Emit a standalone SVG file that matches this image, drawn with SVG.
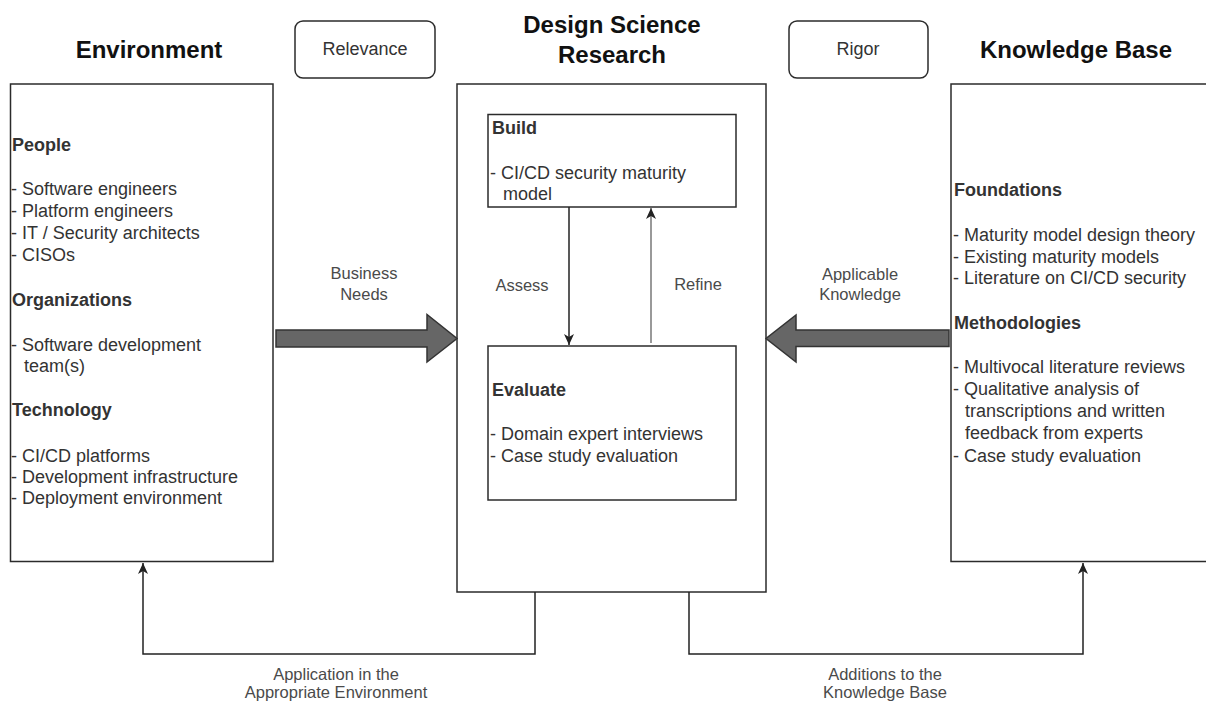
<svg xmlns="http://www.w3.org/2000/svg" width="1206" height="707" viewBox="0 0 1206 707">
  <style>
    text { font-family: "Liberation Sans", Arial, Helvetica, sans-serif; }
    .title { font-size: 24px; font-weight: bold; fill: #111; text-anchor: middle; }
    .body { font-size: 18px; fill: #333; }
    .head { font-size: 18px; font-weight: bold; fill: #333; }
    .tag { font-size: 18px; fill: #333; text-anchor: middle; }
    .lbl { font-size: 16.5px; fill: #4a4a4a; text-anchor: middle; }
    .box { fill: #fff; stroke: #2b2b2b; stroke-width: 1.5; }
    .pill { fill: #fff; stroke: #2b2b2b; stroke-width: 1.5; }
    .wire { fill: none; stroke: #222; stroke-width: 1.5; }
    .wire-soft { fill: none; stroke: #777; stroke-width: 1.5; }
    .fat { fill: #666; stroke: #333; stroke-width: 1.5; stroke-linejoin: miter; }
  </style>
  <defs>
    <marker id="tip" markerUnits="userSpaceOnUse" markerWidth="12" markerHeight="12" viewBox="0 0 12 12" refX="11" refY="6" orient="auto">
      <path d="M0,1 L11,6 L0,11 L3,6 z" fill="#222"/>
    </marker>
  </defs>

  <rect width="1206" height="707" fill="#fff"/>

  <!-- column titles -->
  <g id="titles">
    <text class="title" x="149" y="58">Environment</text>
    <text class="title" x="612" y="33">Design Science</text>
    <text class="title" x="612" y="63">Research</text>
    <text class="title" x="1076" y="58">Knowledge Base</text>
  </g>

  <g id="relevance">
    <rect class="pill" x="295" y="21" width="140" height="57" rx="8"/>
    <text class="tag" x="365" y="55">Relevance</text>
  </g>

  <g id="rigor">
    <rect class="pill" x="789" y="21" width="139" height="57" rx="8"/>
    <text class="tag" x="858" y="55">Rigor</text>
  </g>

  <!-- Environment column -->
  <g id="environment">
    <rect class="box" x="10.5" y="84" width="262.5" height="477.5"/>
    <text class="head" x="12" y="151">People</text>
    <text class="body" x="11" y="195">- Software engineers</text>
    <text class="body" x="11" y="217">- Platform engineers</text>
    <text class="body" x="11" y="239">- IT / Security architects</text>
    <text class="body" x="11" y="261">- CISOs</text>
    <text class="head" x="12" y="306">Organizations</text>
    <text class="body" x="11" y="351">- Software development</text>
    <text class="body" x="24" y="372">team(s)</text>
    <text class="head" x="12" y="416">Technology</text>
    <text class="body" x="11" y="462">- CI/CD platforms</text>
    <text class="body" x="11" y="483">- Development infrastructure</text>
    <text class="body" x="11" y="504">- Deployment environment</text>
  </g>

  <!-- Design science research column -->
  <g id="dsr">
    <rect class="box" x="457" y="84" width="309" height="508"/>
  </g>

  <g id="build">
    <rect class="box" x="488" y="114.5" width="248" height="92.5"/>
    <text class="head" x="492" y="134">Build</text>
    <text class="body" x="490" y="179">- CI/CD security maturity</text>
    <text class="body" x="503" y="200">model</text>
  </g>

  <g id="evaluate">
    <rect class="box" x="488" y="346" width="248" height="154"/>
    <text class="head" x="492" y="396">Evaluate</text>
    <text class="body" x="490" y="440">- Domain expert interviews</text>
    <text class="body" x="490" y="462">- Case study evaluation</text>
  </g>

  <!-- Knowledge base column -->
  <g id="knowledge-base">
    <rect class="box" x="951" y="84" width="300" height="477.5"/>
    <text class="head" x="954" y="196">Foundations</text>
    <text class="body" x="953" y="241">- Maturity model design theory</text>
    <text class="body" x="953" y="263">- Existing maturity models</text>
    <text class="body" x="953" y="284">- Literature on CI/CD security</text>
    <text class="head" x="954" y="329">Methodologies</text>
    <text class="body" x="953" y="373">- Multivocal literature reviews</text>
    <text class="body" x="953" y="395">- Qualitative analysis of</text>
    <text class="body" x="965" y="417">transcriptions and written</text>
    <text class="body" x="965" y="439">feedback from experts</text>
    <text class="body" x="953" y="462">- Case study evaluation</text>
  </g>

  <!-- connectors -->
  <g id="connectors">
    <!-- Business needs: environment -> DSR -->
    <path class="fat" d="M276,330 H427 V314.5 L457,338.5 L427,362 V347 H276 Z"/>
    <!-- Applicable knowledge: knowledge base -> DSR -->
    <path class="fat" d="M949,330 H796 V315 L766,338.5 L796,362 V346.5 H949 Z"/>
    <!-- Assess / Refine loop -->
    <path class="wire" d="M569,207 V345" marker-end="url(#tip)"/>
    <path class="wire-soft" d="M651,343 V208" marker-end="url(#tip)"/>
    <!-- feedback to environment and knowledge base -->
    <path class="wire" d="M535,592 V654 H143 V563" marker-end="url(#tip)"/>
    <path class="wire" d="M689,592 V654 H1083 V563" marker-end="url(#tip)"/>

    <text class="lbl" x="364" y="279">Business</text>
    <text class="lbl" x="364" y="300">Needs</text>
    <text class="lbl" x="860" y="280">Applicable</text>
    <text class="lbl" x="860" y="300">Knowledge</text>
    <text class="lbl" x="522" y="291">Assess</text>
    <text class="lbl" x="698" y="290">Refine</text>
    <text class="lbl" x="336" y="680">Application in the</text>
    <text class="lbl" x="336" y="698">Appropriate Environment</text>
    <text class="lbl" x="885" y="680">Additions to the</text>
    <text class="lbl" x="885" y="698">Knowledge Base</text>
  </g>
</svg>
